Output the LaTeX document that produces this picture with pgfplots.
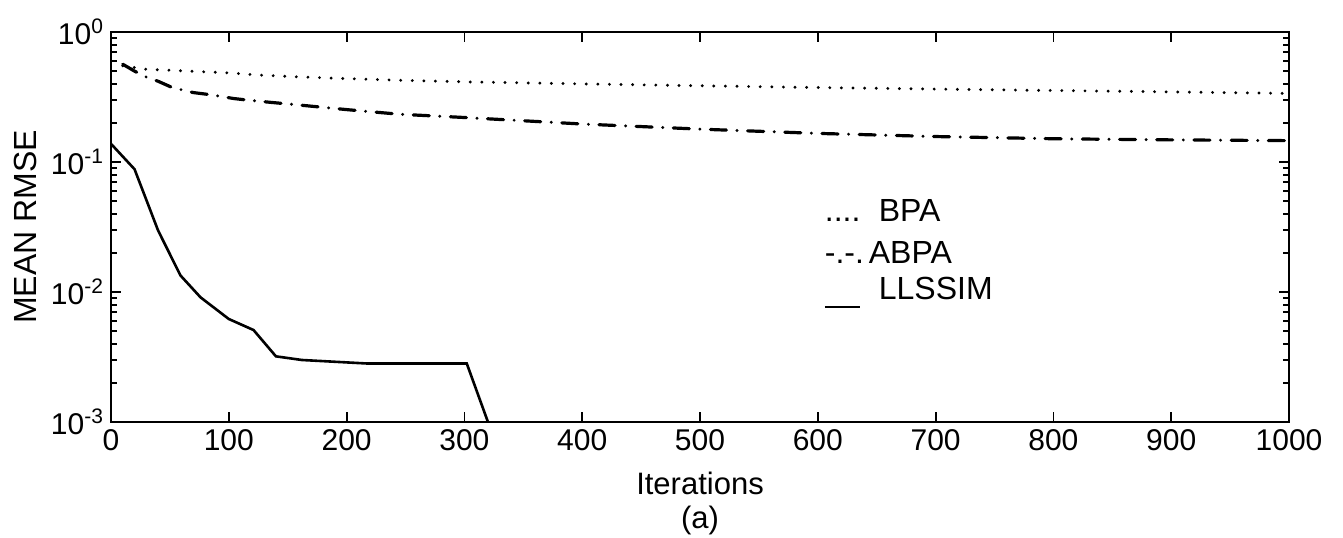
\documentclass[border=0pt]{standalone}
\usepackage{fontspec}
\setmainfont{Liberation Sans}
\usepackage{pgfplots}
\pgfplotsset{compat=1.18}
\newcommand{\fs}{\fontsize{15}{18}\selectfont}
\newcommand{\fl}{\fontsize{15.5}{18}\selectfont}
\newcommand{\fg}{\fontsize{16}{19}\selectfont}
\begin{document}
\begin{tikzpicture}
\path[use as bounding box] (-55.5pt,-57.5pt) rectangle (616pt,211pt);
\begin{axis}[
  at={(0,0)}, anchor=south west,
  scale only axis, width=589pt, height=195pt,
  ymode=log, xmin=0, xmax=1000, ymin=1e-3, ymax=1,
  axis line style={line width=1.3pt},
  tick style={line width=0.9pt, black},
  tick align=inside,
  major tick length=5pt, minor tick length=3pt,
  xtick={0,100,200,300,400,500,600,700,800,900,1000},
  xticklabels={0,100,200,300,400,500,600,700,800,900,1000},
  ytick={1e-3,1e-2,1e-1,1},
  yticklabels={10\textsuperscript{-3},10\textsuperscript{-2},10\textsuperscript{-1},10\textsuperscript{0}},
  minor ytick={2e-3,3e-3,4e-3,5e-3,6e-3,7e-3,8e-3,9e-3,2e-2,3e-2,4e-2,5e-2,6e-2,7e-2,8e-2,9e-2,2e-1,3e-1,4e-1,5e-1,6e-1,7e-1,8e-1,9e-1},
  ticklabel style={font=\fs},
  xlabel={Iterations},
  ylabel={MEAN RMSE},
  xlabel style={font=\fl, at={(axis description cs:0.5,0)}, anchor=center, yshift=-30.5pt},
  ylabel style={font=\fg, at={(axis description cs:-0.073,0.5)}, anchor=center},
]
\addplot[black, line width=1.6pt, line cap=round, dash pattern=on 0pt off 5.8pt] coordinates {
(10,0.55)(30,0.517)(50,0.508)(75,0.496)(100,0.485)(125,0.467)(150,0.455)(200,0.438)(250,0.424)(300,0.414)(400,0.399)(500,0.386)(600,0.374)(700,0.364)(800,0.355)(900,0.346)(1000,0.337)
};
\addplot[black, line width=1.6pt, line cap=round, dash pattern=on 8pt off 5.3pt on 0pt off 5.3pt] coordinates {
(10,0.565)(20,0.50)(30,0.45)(40,0.418)(52,0.374)(70,0.342)(85,0.329)(104,0.308)(115,0.30)(135,0.288)(155,0.277)(200,0.253)(245,0.233)(300,0.22)(400,0.196)(500,0.179)(600,0.166)(700,0.157)(800,0.151)(900,0.148)(1000,0.146)
};
\addplot[black, line width=1.3pt] coordinates {
(0,0.138)(20,0.088)(40,0.0297)(59,0.0134)(76,0.0091)(100,0.0062)(121,0.0051)(140,0.0032)(162,0.0030)(217,0.00282)(302,0.00282)(320,0.001)
};
\node[font=\fg, anchor=west] at (axis cs:600,0.0423) {\makebox[27pt][l]{....}BPA};
\node[font=\fg, anchor=west] at (axis cs:600,0.0201) {\makebox[22pt][l]{-.-.}ABPA};
\node[font=\fg, anchor=west] at (axis cs:600,0.0099) {\makebox[27pt][l]{\rule[-4.5pt]{17.5pt}{1.3pt}}LLSSIM};
\end{axis}
\node[font=\fl] at (294.5pt,-49pt) {(a)};
\end{tikzpicture}
\end{document}
